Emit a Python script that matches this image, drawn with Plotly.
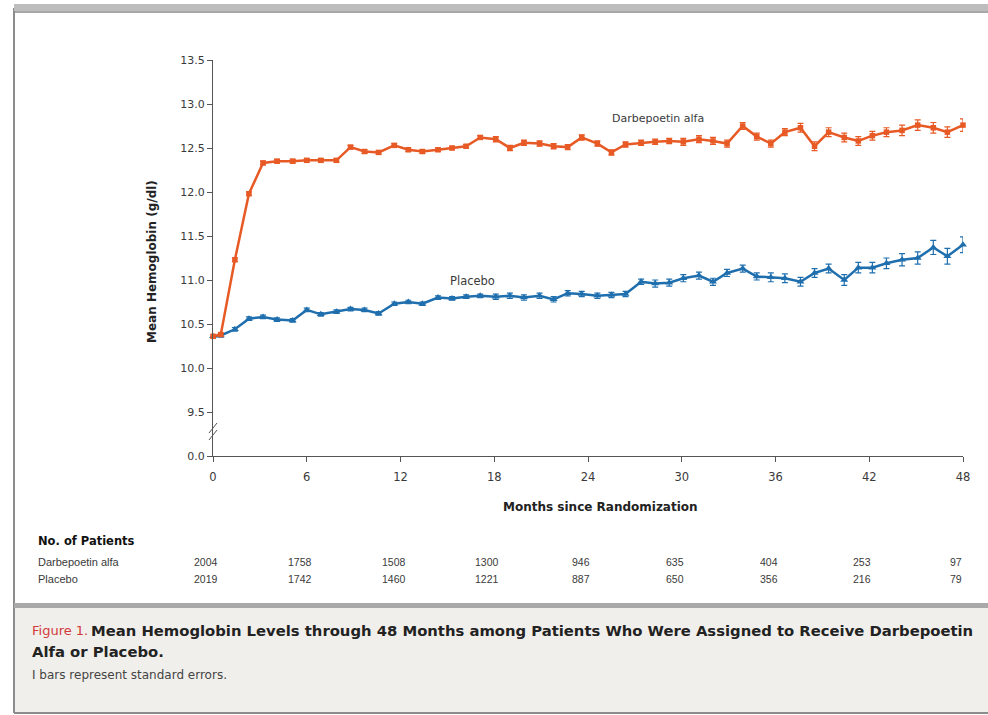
import plotly.graph_objects as go

# ---------------- data ----------------
months = [0, 0.5, 1.4, 2.3, 3.2, 4.1, 5.1, 6.0, 6.9, 7.9,
          8.8, 9.7, 10.6, 11.6, 12.5, 13.4, 14.4, 15.3, 16.2, 17.1,
          18.1, 19.0, 19.9, 20.9, 21.8, 22.7, 23.6, 24.6, 25.5, 26.4,
          27.4, 28.3, 29.2, 30.1, 31.1, 32.0, 32.9, 33.9, 34.8, 35.7,
          36.6, 37.6, 38.5, 39.4, 40.4, 41.3, 42.2, 43.1, 44.1, 45.1,
          46.1, 47.0, 48.0]

darbepoetin = [10.36, 10.38, 11.23, 11.98, 12.33, 12.35, 12.35, 12.36, 12.36, 12.36,
               12.51, 12.46, 12.45, 12.53, 12.48, 12.46, 12.48, 12.50, 12.52, 12.62,
               12.60, 12.50, 12.56, 12.55, 12.52, 12.51, 12.62, 12.55, 12.45, 12.54,
               12.56, 12.57, 12.58, 12.57, 12.60, 12.58, 12.55, 12.75, 12.63, 12.55,
               12.68, 12.73, 12.52, 12.68, 12.62, 12.58, 12.64, 12.68, 12.70, 12.76,
               12.73, 12.68, 12.76]
darbepoetin_se = [0.02, 0.02, 0.02, 0.02, 0.02, 0.02, 0.02, 0.02, 0.02, 0.02,
                  0.02, 0.02, 0.02, 0.02, 0.02, 0.02, 0.02, 0.02, 0.02, 0.02,
                  0.03, 0.03, 0.03, 0.03, 0.03, 0.03, 0.03, 0.03, 0.03, 0.03,
                  0.03, 0.03, 0.03, 0.04, 0.04, 0.04, 0.04, 0.04, 0.04, 0.04,
                  0.04, 0.05, 0.05, 0.05, 0.05, 0.05, 0.05, 0.05, 0.06, 0.06,
                  0.06, 0.06, 0.07]

placebo = [10.36, 10.37, 10.44, 10.56, 10.58, 10.55, 10.54, 10.66, 10.61, 10.64,
           10.67, 10.66, 10.62, 10.73, 10.75, 10.73, 10.80, 10.79, 10.81, 10.82,
           10.81, 10.82, 10.80, 10.82, 10.78, 10.85, 10.84, 10.82, 10.83, 10.84,
           10.98, 10.96, 10.97, 11.02, 11.05, 10.98, 11.08, 11.13, 11.04, 11.03,
           11.02, 10.98, 11.08, 11.13, 11.00, 11.14, 11.14, 11.19, 11.23, 11.25,
           11.37, 11.27, 11.40]
placebo_se = [0.02, 0.02, 0.02, 0.02, 0.02, 0.02, 0.02, 0.02, 0.02, 0.02,
              0.02, 0.02, 0.02, 0.02, 0.02, 0.02, 0.02, 0.02, 0.02, 0.02,
              0.03, 0.03, 0.03, 0.03, 0.03, 0.03, 0.03, 0.03, 0.03, 0.03,
              0.03, 0.04, 0.04, 0.04, 0.04, 0.04, 0.04, 0.04, 0.04, 0.05,
              0.05, 0.05, 0.05, 0.05, 0.06, 0.06, 0.06, 0.06, 0.07, 0.07,
              0.08, 0.09, 0.09]

x_ticks = [0, 6, 12, 18, 24, 30, 36, 42, 48]
y_tickvals = [9.0, 9.5, 10.0, 10.5, 11.0, 11.5, 12.0, 12.5, 13.0, 13.5]
y_ticktext = ["0.0", "9.5", "10.0", "10.5", "11.0", "11.5", "12.0", "12.5", "13.0", "13.5"]

n_darbepoetin = ["2004", "1758", "1508", "1300", "946", "635", "404", "253", "97"]
n_placebo = ["2019", "1742", "1460", "1221", "887", "650", "356", "216", "79"]

ORANGE = "#E85A25"
BLUE = "#1F6FAE"
TXT = "#3a3a3a"
FONT = "DejaVu Sans"
NUMFONT = "Liberation Sans"

# pixel geometry helpers (plot area 213..963 x, 60..456 y)
W, H = 988, 715
L, R, T, B = 213, 963, 60, 456


def px(xp):
    return (xp - L) / (R - L)


def py(yp):
    return (B - yp) / (B - T)


fig = go.Figure()

fig.add_trace(go.Scatter(
    x=months, y=placebo, mode="lines+markers", name="Placebo",
    line=dict(color=BLUE, width=2.5),
    marker=dict(symbol="triangle-up", size=7, color=BLUE),
    error_y=dict(type="data", array=placebo_se, color=BLUE, thickness=1.2, width=3),
    cliponaxis=False,
))
fig.add_trace(go.Scatter(
    x=months, y=darbepoetin, mode="lines+markers", name="Darbepoetin alfa",
    line=dict(color=ORANGE, width=2.5),
    marker=dict(symbol="square", size=5.5, color=ORANGE),
    error_y=dict(type="data", array=darbepoetin_se, color=ORANGE, thickness=1.2, width=3),
    cliponaxis=False,
))

shapes = []
# outer frame: left border, top band
shapes.append(dict(type="line", xref="paper", yref="paper",
                   x0=px(14), x1=px(14), y0=py(8), y1=py(713),
                   line=dict(color="#8c8c8c", width=2)))
shapes.append(dict(type="rect", xref="paper", yref="paper",
                   x0=px(14), x1=px(990), y0=py(4), y1=py(11),
                   fillcolor="#bdbdbd", line=dict(width=0)))
shapes.append(dict(type="line", xref="paper", yref="paper",
                   x0=px(14), x1=px(990), y0=py(12), y1=py(12),
                   line=dict(color="#8a8a8a", width=1.5)))
# caption background
shapes.append(dict(type="rect", xref="paper", yref="paper",
                   x0=px(15), x1=px(990), y0=py(608), y1=py(712),
                   fillcolor="#f1efeb", line=dict(width=0), layer="below"))
shapes.append(dict(type="rect", xref="paper", yref="paper",
                   x0=px(14), x1=px(990), y0=py(603), y1=py(608),
                   fillcolor="#a9a9a9", line=dict(width=0)))
shapes.append(dict(type="line", xref="paper", yref="paper",
                   x0=px(14), x1=px(990), y0=py(713), y1=py(713),
                   line=dict(color="#8c8c8c", width=2)))
# axis break marks on the y axis
for dy in (0, 7):
    shapes.append(dict(type="line", xref="paper", yref="paper",
                       x0=px(209), x1=px(217), y0=py(440 - dy), y1=py(430 - dy),
                       line=dict(color="#555555", width=1)))


def note(x, y, text, size, color=TXT, family=FONT, xref="paper", yref="paper",
         xanchor="left", **kw):
    return dict(x=x, y=y, xref=xref, yref=yref, text=text, showarrow=False,
                xanchor=xanchor, yanchor="middle",
                font=dict(family=family, size=size, color=color), **kw)


annotations = []
# series labels
annotations.append(note(28.5, 12.84, "Darbepoetin alfa", 11, xref="x", yref="y", xanchor="center"))
annotations.append(note(16.6, 10.99, "Placebo", 11.5, xref="x", yref="y", xanchor="center"))
# axis titles
annotations.append(note(px(152), py(262), "<b>Mean Hemoglobin (g/dl)</b>", 12,
                        color="#222222", xanchor="center", textangle=-90))
annotations.append(note(24.8, py(507), "<b>Months since Randomization</b>", 12,
                        color="#222222", xref="x", xanchor="center"))
# number at risk table
annotations.append(note(px(36), py(541), "<b>No. of Patients</b>", 11.5, color="#111111"))
annotations.append(note(px(36), py(562), "Darbepoetin alfa", 11, family=NUMFONT))
annotations.append(note(px(36), py(579), "Placebo", 11, family=NUMFONT))
for xv, a, b in zip(x_ticks, n_darbepoetin, n_placebo):
    annotations.append(note(xv, py(562), a, 10.5, family=NUMFONT, xref="x",
                            xanchor="center", xshift=-7))
    annotations.append(note(xv, py(579), b, 10.5, family=NUMFONT, xref="x",
                            xanchor="center", xshift=-7))
# caption
annotations.append(note(px(30), py(630), "Figure 1.", 13, color="#d23a3a"))
annotations.append(note(px(89), py(630),
                        "<b>Mean Hemoglobin Levels through 48 Months among Patients Who Were Assigned to Receive Darbepoetin</b>",
                        14.8, color="#222222"))
annotations.append(note(px(30), py(651), "<b>Alfa or Placebo.</b>", 14.8, color="#222222"))
annotations.append(note(px(30), py(675), "I bars represent standard errors.", 12, color="#444444"))

fig.update_layout(
    width=W, height=H,
    margin=dict(l=L, r=W - R, t=T, b=H - B),
    paper_bgcolor="white", plot_bgcolor="white",
    showlegend=False,
    shapes=shapes, annotations=annotations,
    font=dict(family=FONT, size=11, color=TXT),
)
fig.update_xaxes(range=[0, 48], tickvals=x_ticks, ticks="outside", ticklen=5,
                 tickcolor="#555555", showline=True, linecolor="#555555", linewidth=1.2,
                 showgrid=False, zeroline=False, ticklabelstandoff=5,
                 tickfont=dict(family=FONT, size=11.5, color=TXT))
fig.update_yaxes(range=[9.0, 13.5], tickvals=y_tickvals, ticktext=y_ticktext,
                 ticks="outside", ticklen=5, tickcolor="#555555",
                 showline=True, linecolor="#555555", linewidth=1.2,
                 showgrid=False, zeroline=False,
                 tickfont=dict(family=FONT, size=11, color=TXT))

fig.write_html("out.html", config={"displayModeBar": False},
               post_script="document.body.style.margin='0';document.body.style.overflow='hidden';")
